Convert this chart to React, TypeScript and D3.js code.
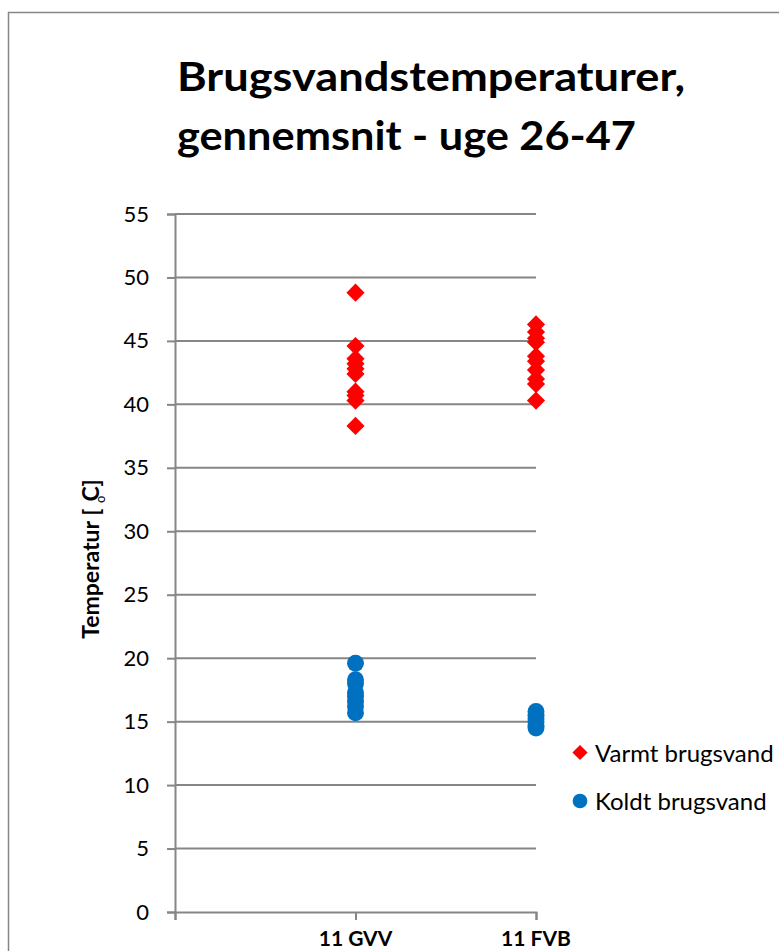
import { useEffect, useRef } from 'react';
import * as d3 from 'd3';

// Categories on the x axis (positions 1 and 2)
const categories = ['11 GVV', '11 FVB'];

// Hot water temperatures per category
const varmtGVV = [48.8, 44.6, 43.6, 43.2, 42.8, 42.4, 41.0, 40.7, 40.3, 38.3];
const varmtFVB = [46.3, 45.7, 45.2, 44.9, 43.8, 43.4, 42.7, 42.0, 41.6, 40.3];

// Cold water temperatures per category
const koldtGVV = [19.6, 18.3, 18.0, 17.3, 17.0, 16.6, 16.2, 15.7];
const koldtFVB = [15.8, 15.5, 15.2, 15.0, 14.7, 14.5];

const yTicks = [0, 5, 10, 15, 20, 25, 30, 35, 40, 45, 50, 55];
const seriesNames = ['Varmt brugsvand', 'Koldt brugsvand'];

const App = () => {
  const svgRef = useRef<SVGSVGElement | null>(null);

  useEffect(() => {
    const width = 779;
    const height = 951;
    const font = 'Lato, "Open Sans", sans-serif';

    const x = d3.scaleLinear().domain([0, 2]).range([175, 536]);
    const y = d3.scaleLinear().domain([0, 55]).range([912, 214]);

    const svg = d3.select(svgRef.current)
      .attr('width', width)
      .attr('height', height)
      .attr('viewBox', [0, 0, width, height]);
    svg.selectAll('*').remove();

    svg.append('rect').attr('width', width).attr('height', height).attr('fill', '#fff');

    // outer chart frame (runs off the right and bottom edge)
    svg.append('rect')
      .attr('x', 8.5).attr('y', 12.5)
      .attr('width', 800).attr('height', 1000)
      .attr('fill', 'none').attr('stroke', '#868686').attr('stroke-width', 1.5);

    // title
    const title = svg.append('text')
      .attr('font-family', font)
      .attr('font-weight', 'bold')
      .attr('font-size', 40)
      .attr('fill', '#000');
    title.append('tspan').attr('x', 177).attr('y', 91)
      .attr('textLength', 508).attr('lengthAdjust', 'spacingAndGlyphs')
      .text('Brugsvandstemperaturer,');
    title.append('tspan').attr('x', 177).attr('y', 150)
      .attr('textLength', 459).attr('lengthAdjust', 'spacingAndGlyphs')
      .text('gennemsnit - uge 26-47');

    // horizontal gridlines
    svg.append('g')
      .selectAll('line')
      .data(yTicks.filter(d => d > 0))
      .join('line')
      .attr('x1', x(0)).attr('x2', x(2))
      .attr('y1', d => y(d)).attr('y2', d => y(d))
      .attr('stroke', '#868686').attr('stroke-width', 2);

    // y axis
    const yAxis = svg.append('g')
      .attr('transform', `translate(${x(0)},0)`)
      .call(d3.axisLeft(y).tickValues(yTicks).tickSize(8).tickPadding(18));
    yAxis.select('.domain').attr('stroke', '#868686').attr('stroke-width', 2);
    yAxis.selectAll('.tick line').attr('stroke', '#868686').attr('stroke-width', 2);
    yAxis.selectAll('text')
      .attr('font-family', font).attr('font-size', 22).attr('fill', '#000');

    // x axis
    const xAxis = svg.append('g')
      .attr('transform', `translate(0,${y(0)})`)
      .call(d3.axisBottom(x).tickValues([0, 1, 2]).tickSize(8).tickFormat(() => ''));
    xAxis.select('.domain').attr('stroke', '#868686').attr('stroke-width', 2);
    xAxis.selectAll('.tick line').attr('stroke', '#868686').attr('stroke-width', 2);

    svg.append('g')
      .selectAll('text')
      .data(categories)
      .join('text')
      .attr('x', (d, i) => x(i + 1))
      .attr('y', 946)
      .attr('text-anchor', 'middle')
      .attr('font-family', font).attr('font-weight', 'bold').attr('font-size', 21)
      .text(d => d);

    // y axis title
    const yt = svg.append('text')
      .attr('transform', 'translate(99,559) rotate(-90)')
      .attr('text-anchor', 'middle')
      .attr('font-family', font).attr('font-weight', 'bold').attr('font-size', 23);
    yt.append('tspan').text('Temperatur [ ');
    yt.append('tspan').attr('font-size', 13).attr('dy', 6).attr('font-weight', 'normal').text('o');
    yt.append('tspan').attr('dy', -6).attr('dx', -6).text('C]');

    const diamond = d3.symbol().type(d3.symbolSquare).size(165);
    const circle = d3.symbol().type(d3.symbolCircle).size(225);

    const varmt = [
      ...varmtGVV.map(v => ({ c: 1, v })),
      ...varmtFVB.map(v => ({ c: 2, v })),
    ];
    const koldt = [
      ...koldtGVV.map(v => ({ c: 1, v })),
      ...koldtFVB.map(v => ({ c: 2, v })),
    ];

    svg.append('g')
      .selectAll('path')
      .data(varmt)
      .join('path')
      .attr('d', diamond)
      .attr('transform', d => `translate(${x(d.c)},${y(d.v)}) rotate(45)`)
      .attr('fill', '#FF0000');

    svg.append('g')
      .selectAll('path')
      .data(koldt)
      .join('path')
      .attr('d', circle)
      .attr('transform', d => `translate(${x(d.c)},${y(d.v)})`)
      .attr('fill', '#0070C0');

    // legend
    const legend = svg.append('g');
    legend.append('path')
      .attr('d', d3.symbol().type(d3.symbolSquare).size(115))
      .attr('transform', 'translate(580,752.5) rotate(45)')
      .attr('fill', '#FF0000');
    legend.append('path')
      .attr('d', d3.symbol().type(d3.symbolCircle).size(170))
      .attr('transform', 'translate(580,801)')
      .attr('fill', '#0070C0');
    legend.selectAll('text')
      .data(seriesNames)
      .join('text')
      .attr('x', 595)
      .attr('y', (d, i) => 762 + i * 48)
      .attr('font-family', font).attr('font-size', 24)
      .text(d => d);
  }, []);

  return (
    <div>
      <svg ref={svgRef} style={{ position: 'absolute', left: 0, top: 0, display: 'block' }}></svg>
    </div>
  );
};

export default App;
